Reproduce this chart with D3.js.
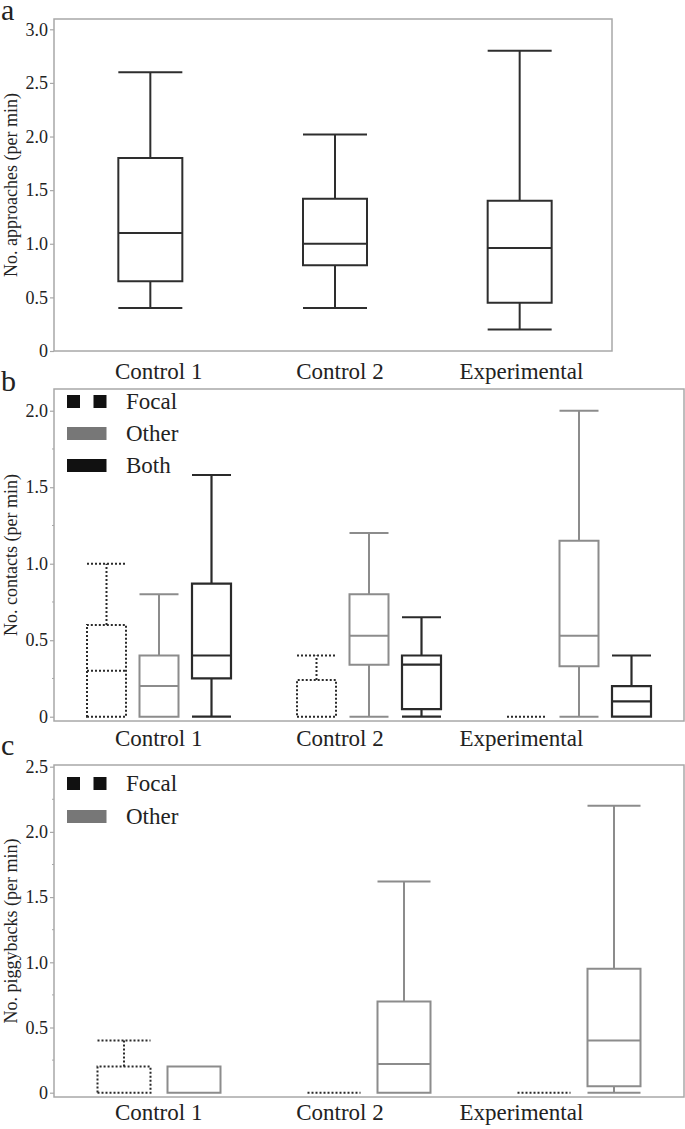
<!DOCTYPE html>
<html>
<head>
<meta charset="utf-8">
<script src="https://cdn.jsdelivr.net/npm/d3@7"></script>
<style>
  html, body { margin: 0; padding: 0; background: #fff; }
  svg { display: block; }
  svg text { font-family: "Liberation Serif", Tinos, "Times New Roman", Times, "DejaVu Serif", serif !important; fill: #222; }
</style>
</head>
<body>
<svg id="chart" width="685" height="1129"></svg>
<script>
// ---------- DATA ----------
const categories = ["Control 1", "Control 2", "Experimental"];
const seriesB = ["Focal", "Other", "Both"];
const seriesC = ["Focal", "Other"];

// [min, q1, median, q3, max]
const approaches = [
  [0.40, 0.65, 1.10, 1.80, 2.60],
  [0.40, 0.80, 1.00, 1.42, 2.02],
  [0.20, 0.45, 0.96, 1.40, 2.80]
];
const contactsFocal = [
  [0, 0, 0.30, 0.60, 1.00],
  [0, 0, 0, 0.24, 0.40],
  [0, 0, 0, 0, 0]
];
const contactsOther = [
  [0, 0, 0.20, 0.40, 0.80],
  [0, 0.34, 0.53, 0.80, 1.20],
  [0, 0.33, 0.53, 1.15, 2.00]
];
const contactsBoth = [
  [0, 0.25, 0.40, 0.87, 1.58],
  [0, 0.05, 0.34, 0.40, 0.65],
  [0, 0, 0.10, 0.20, 0.40]
];
const piggyFocal = [
  [0, 0, 0, 0.20, 0.40],
  [0, 0, 0, 0, 0],
  [0, 0, 0, 0, 0]
];
const piggyOther = [
  [0, 0, 0, 0.20, 0.20],
  [0, 0, 0.22, 0.70, 1.62],
  [0, 0.05, 0.40, 0.95, 2.20]
];
const ticksA = [0, 0.5, 1.0, 1.5, 2.0, 2.5, 3.0];
const ticksB = [0, 0.5, 1.0, 1.5, 2.0];
const ticksC = [0, 0.5, 1.0, 1.5, 2.0, 2.5];
const minorB = [0.25, 0.75, 1.25, 1.75];
const minorC = [0.25, 0.75, 1.25, 1.75, 2.25];

// ---------- STYLE ----------
const FONT = '"Liberation Serif", Tinos, "Times New Roman", Times, "DejaVu Serif", serif';
const styles = {
  Focal: { stroke: "#2a2a2a", dash: "2,2", width: 2 },
  Other: { stroke: "#8c8c8c", dash: null, width: 2 },
  Both:  { stroke: "#2a2a2a", dash: null, width: 2.2 },
  Single:{ stroke: "#2e2e2e", dash: null, width: 2 }
};
const frameColor = "#a8a8a8";

const svg = d3.select("#chart");
const fmt = d => d === 0 ? "0" : d3.format(".1f")(d);

function drawPanel(opt) {
  const g = svg.append("g").attr("font-family", FONT);
  const y = d3.scaleLinear().domain(opt.yDomain).range([opt.bottom, opt.top]);
  g.append("rect")
    .attr("x", opt.left).attr("y", opt.top)
    .attr("width", opt.right - opt.left).attr("height", opt.bottom - opt.top)
    .attr("fill", "none").attr("stroke", frameColor).attr("stroke-width", 1.5);
  const ax = g.append("g").attr("transform", `translate(${opt.left},0)`)
    .call(d3.axisLeft(y).tickValues(opt.ticks).tickFormat(fmt).tickSize(4).tickPadding(2));
  ax.attr("font-family", FONT).attr("font-size", 18);
  ax.select(".domain").remove();
  ax.selectAll(".tick line").attr("stroke", frameColor).attr("stroke-width", 1.2);
  ax.selectAll(".tick text").attr("fill", "#2a2a2a");
  if (opt.minor) {
    g.selectAll(".minor").data(opt.minor).enter().append("line")
      .attr("x1", opt.left - 2).attr("x2", opt.left)
      .attr("y1", d => y(d)).attr("y2", d => y(d))
      .attr("stroke", frameColor).attr("stroke-width", 1);
  }
  g.append("text")
    .attr("transform", `translate(17,${(opt.top + opt.bottom) / 2}) rotate(-90)`)
    .attr("text-anchor", "middle").attr("font-size", 18)
    .text(opt.title);
  g.append("text").attr("x", 1).attr("y", opt.letterY)
    .attr("font-size", 30).text(opt.letter);
  const xl = d3.scaleBand().domain(categories).range([68, 612]);
  g.selectAll(".xl").data(categories).enter().append("text")
    .attr("x", d => xl(d) + xl.bandwidth() / 2)
    .attr("y", opt.labelY)
    .attr("text-anchor", "middle").attr("font-size", 23)
    .text(d => d);
  return { g, y };
}

function drawBox(g, y, cx, w, v, st) {
  const [mn, q1, md, q3, mx] = v;
  const x0 = cx - w / 2, x1 = cx + w / 2;
  const line = (xa, ya, xb, yb) => g.append("line")
    .attr("x1", xa).attr("y1", ya).attr("x2", xb).attr("y2", yb)
    .attr("stroke", st.stroke).attr("stroke-width", st.width)
    .attr("stroke-dasharray", st.dash);
  if (mx > q3) { line(cx, y(q3), cx, y(mx)); line(x0, y(mx), x1, y(mx)); }
  if (mn < q1) { line(cx, y(q1), cx, y(mn)); line(x0, y(mn), x1, y(mn)); }
  g.append("path")
    .attr("d", `M${x0},${y(q1)}H${x1}V${y(q3)}H${x0}Z`)
    .attr("fill", "none").attr("stroke", st.stroke).attr("stroke-width", st.width)
    .attr("stroke-dasharray", st.dash);
  if (md > q1 && md < q3) line(x0, y(md), x1, y(md));
}

function drawLegend(g, items, x, yTop, gap) {
  items.forEach((name, i) => {
    const yy = yTop + i * gap;
    if (name === "Focal") {
      g.append("rect").attr("x", x).attr("y", yy).attr("width", 13).attr("height", 13).attr("fill", "#111");
      g.append("rect").attr("x", x + 26.5).attr("y", yy).attr("width", 13).attr("height", 13).attr("fill", "#111");
    } else {
      g.append("rect").attr("x", x).attr("y", yy).attr("width", 39.5).attr("height", 13)
        .attr("fill", name === "Other" ? "#777" : "#111");
    }
    g.append("text").attr("x", x + 59).attr("y", yy + 13.5).attr("font-size", 23).text(name);
  });
}

// ---------- PANEL A ----------
{
  const p = drawPanel({ left: 54, right: 612, top: 19, bottom: 351, yDomain: [0, 3.096],
    ticks: ticksA, title: "No. approaches (per min)", letter: "a", letterY: 20, labelY: 379 });
  const x = d3.scaleBand().domain(categories).range([58, 612]);
  categories.forEach((c, i) => drawBox(p.g, p.y, x(c) + x.bandwidth() / 2, 64, approaches[i], styles.Single));
}

// ---------- PANEL B ----------
{
  const p = drawPanel({ left: 54, right: 684, top: 389, bottom: 721, yDomain: [-0.028, 2.142],
    ticks: ticksB, minor: minorB, title: "No. contacts (per min)", letter: "b", letterY: 391, labelY: 746 });
  const x = d3.scaleBand().domain(categories).range([54, 684]);
  const xs = d3.scalePoint().domain(seriesB).range([-52.5, 52.5]);
  const dataB = { Focal: contactsFocal, Other: contactsOther, Both: contactsBoth };
  categories.forEach((c, i) => {
    seriesB.forEach(s => drawBox(p.g, p.y, x(c) + x.bandwidth() / 2 + xs(s), 39, dataB[s][i], styles[s]));
  });
  drawLegend(p.g, seriesB, 67, 395, 32);
}

// ---------- PANEL C ----------
{
  const p = drawPanel({ left: 54, right: 684, top: 765, bottom: 1097, yDomain: [-0.033, 2.513],
    ticks: ticksC, minor: minorC, title: "No. piggybacks (per min)", letter: "c", letterY: 755, labelY: 1120 });
  const x = d3.scaleBand().domain(categories).range([54, 684]);
  const xs = d3.scalePoint().domain(seriesC).range([-35, 35]);
  const dataC = { Focal: piggyFocal, Other: piggyOther };
  categories.forEach((c, i) => {
    seriesC.forEach(s => drawBox(p.g, p.y, x(c) + x.bandwidth() / 2 + xs(s), 53, dataC[s][i], styles[s]));
  });
  drawLegend(p.g, seriesC, 67, 777, 33);
}
</script>
</body>
</html>
